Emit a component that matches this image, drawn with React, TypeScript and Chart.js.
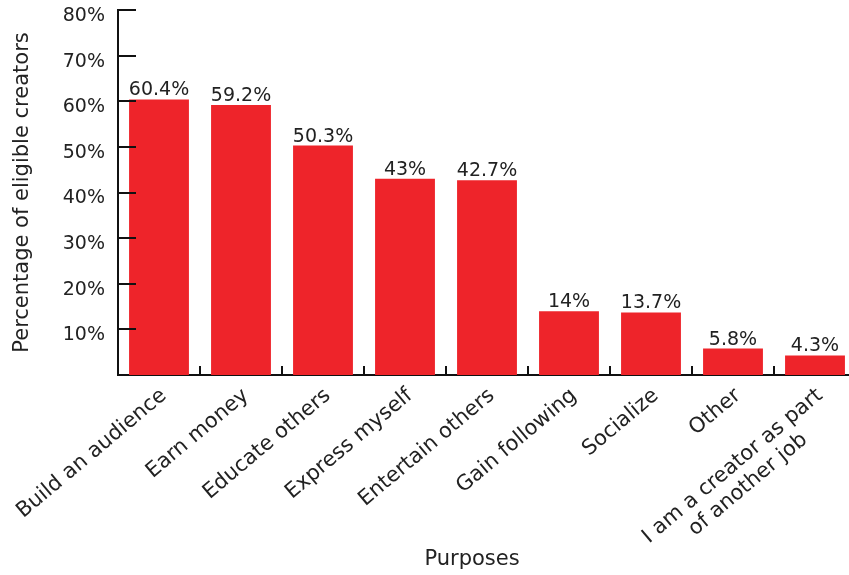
import React, { useEffect, useRef } from 'react';
import { Chart, registerables } from 'chart.js';

Chart.register(...registerables);

const categories: string[][] = [
  ['Build an audience'],
  ['Earn money'],
  ['Educate others'],
  ['Express myself'],
  ['Entertain others'],
  ['Gain following'],
  ['Socialize'],
  ['Other'],
  ['I am a creator as part', 'of another job'],
];
const values = [60.4, 59.2, 50.3, 43, 42.7, 14, 13.7, 5.8, 4.3];
const valueLabels = ['60.4%', '59.2%', '50.3%', '43%', '42.7%', '14%', '13.7%', '5.8%', '4.3%'];
const yTickValues = [10, 20, 30, 40, 50, 60, 70, 80];
const xTitle = 'Purposes';
const yTitle = 'Percentage of eligible creators';

const FONT = '"DejaVu Sans", sans-serif';
const TEXT = '#222222';
const BAR = '#EE242A';

const decorPlugin = {
  id: 'decor',
  afterDraw(chart: any) {
    const { ctx, chartArea, scales } = chart;
    const xs = scales.x;
    const ys = scales.y;
    ctx.save();
    ctx.strokeStyle = '#111111';
    ctx.lineWidth = 2;
    // y ticks pointing inward
    yTickValues.forEach((v) => {
      const y = Math.round(ys.getPixelForValue(v));
      ctx.beginPath();
      ctx.moveTo(chartArea.left, y);
      ctx.lineTo(chartArea.left + 18, y);
      ctx.stroke();
    });
    // x ticks at category boundaries, pointing up
    for (let i = 1; i < categories.length; i++) {
      const x = Math.round((xs.getPixelForValue(i - 1) + xs.getPixelForValue(i)) / 2);
      ctx.beginPath();
      ctx.moveTo(x, chartArea.bottom);
      ctx.lineTo(x, chartArea.bottom - 9);
      ctx.stroke();
    }
    // data labels
    const meta = chart.getDatasetMeta(0);
    ctx.fillStyle = TEXT;
    ctx.font = `19px ${FONT}`;
    ctx.textAlign = 'center';
    ctx.textBaseline = 'alphabetic';
    meta.data.forEach((bar: any, i: number) => {
      ctx.fillText(valueLabels[i], bar.x, bar.y - 4);
    });
    // x category labels, rotated, multi-line centred
    ctx.font = `21px ${FONT}`;
    ctx.textBaseline = 'middle';
    const ang = (-40 * Math.PI) / 180;
    const lineH = 24;
    categories.forEach((lines, i) => {
      const tx = xs.getPixelForValue(i) + 5;
      const ty = chartArea.bottom + 18;
      const widths = lines.map((l) => ctx.measureText(l).width);
      const maxW = Math.max(...widths);
      ctx.save();
      ctx.translate(tx, ty);
      ctx.rotate(ang);
      ctx.textAlign = 'center';
      lines.forEach((l, j) => {
        ctx.fillText(l, -maxW / 2, j * lineH);
      });
      ctx.restore();
    });
    // axis titles
    ctx.font = `21px ${FONT}`;
    ctx.textAlign = 'center';
    ctx.textBaseline = 'middle';
    ctx.fillText(xTitle, chartArea.left + 354, chartArea.bottom + 185);
    ctx.save();
    ctx.translate(chartArea.left - 95, (chartArea.top + chartArea.bottom) / 2);
    ctx.rotate(-Math.PI / 2);
    ctx.fillText(yTitle, 0, 0);
    ctx.restore();
    ctx.restore();
  },
};

export default function App() {
  const ref = useRef<HTMLCanvasElement | null>(null);
  useEffect(() => {
    if (!ref.current) return;
    const chart = new Chart(ref.current, {
      type: 'bar',
      data: {
        labels: categories.map((c) => c.join(' ')),
        datasets: [
          {
            data: values,
            backgroundColor: BAR,
            barPercentage: 0.73,
            categoryPercentage: 1,
          },
        ],
      },
      plugins: [decorPlugin],
      options: {
        animation: false,
        responsive: false,
        maintainAspectRatio: false,
        layout: { padding: { top: 10, right: 4, left: 0, bottom: 0 } },
        plugins: {
          legend: { display: false },
          tooltip: { enabled: false },
        },
        scales: {
          x: {
            grid: { display: false },
            border: { display: true, color: '#111111', width: 2 },
            ticks: { display: false },
            afterFit: (s: any) => {
              s.height = 200;
              s.paddingLeft = 0;
              s.paddingRight = 0;
            },
          },
          y: {
            min: 0,
            max: 80,
            grid: { display: false },
            border: { display: true, color: '#111111', width: 2 },
            ticks: {
              stepSize: 10,
              color: TEXT,
              font: { family: FONT, size: 19 },
              padding: 5,
              labelOffset: 6,
              callback: (v: any) => (v === 0 ? '' : `${v}%`),
            },
            afterFit: (s: any) => {
              s.width = 118;
              s.paddingTop = 0;
              s.paddingBottom = 0;
            },
          },
        },
      },
    });
    return () => chart.destroy();
  }, []);
  return (
    <div style={{ position: 'absolute', left: 0, top: 0, width: 849, height: 575, overflow: 'hidden', background: '#ffffff' }}>
      <canvas ref={ref} width={860} height={575} style={{ display: 'block', width: 860, height: 575 }} />
    </div>
  );
}
